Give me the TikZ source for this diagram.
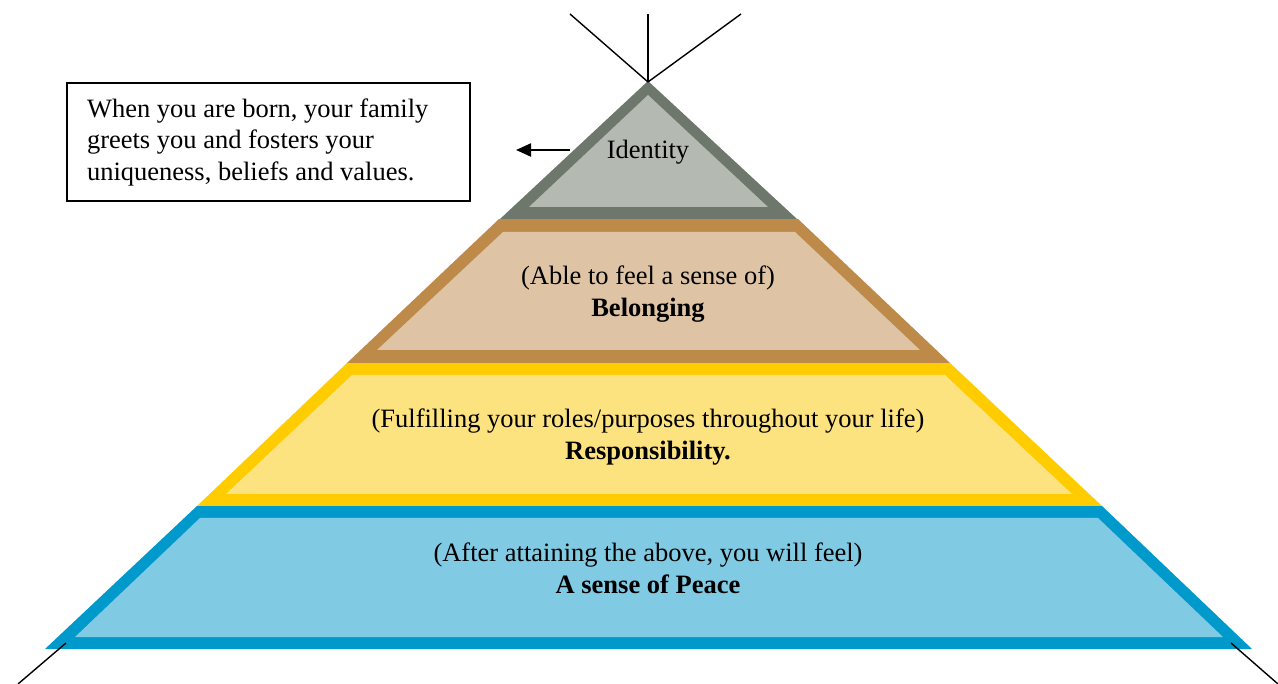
\documentclass[tikz,border=0pt]{standalone}
\usepackage{fontspec}
\setmainfont{Liberation Serif}
\usetikzlibrary{arrows.meta}

\definecolor{idBorder}{RGB}{110,119,108}
\definecolor{idFill}{RGB}{180,186,178}
\definecolor{beBorder}{RGB}{190,138,74}
\definecolor{beFill}{RGB}{222,196,165}
\definecolor{reBorder}{RGB}{255,204,0}
\definecolor{reFill}{RGB}{253,226,128}
\definecolor{peBorder}{RGB}{0,153,204}
\definecolor{peFill}{RGB}{128,203,227}

\tikzset{
  txt/.style={font=\fontsize{26.5}{32}\selectfont, align=center, inner sep=0pt},
  thinline/.style={line width=1.4pt, black},
  notebox/.style={draw, line width=1.3pt, font=\fontsize{26.5}{31.5}\selectfont,
    align=flush left, text width=363pt, inner xsep=20pt, minimum height=118pt},
}

\begin{document}
\begin{tikzpicture}[x=1pt, y=-1pt]
  \useasboundingbox (0,0) rectangle (1278,684);

  % Peace tier
  \fill[peBorder] (197,506) -- (1102,506) -- (1252,649) -- (45,649) -- cycle;
  \fill[peFill] (200,518) -- (1098,518) -- (1223,637) -- (75,637) -- cycle;
  % Responsibility tier
  \fill[reBorder] (347,363) -- (950,363) -- (1102,506) -- (197,506) -- cycle;
  \fill[reFill] (352,375) -- (945,375) -- (1072,494) -- (226,494) -- cycle;
  % Belonging tier
  \fill[beBorder] (499,219) -- (798,219) -- (950,363) -- (347,363) -- cycle;
  \fill[beFill] (503,232) -- (795,232) -- (920,350) -- (377,350) -- cycle;
  % Identity tier
  \fill[idBorder] (648,81) -- (797,219) -- (500,219) -- cycle;
  \fill[idFill] (648,95) -- (768,207) -- (529,207) -- cycle;

  % tier labels
  \node[txt] (identity) at (648,152) {Identity};
  \node[txt] (belonging) at (648,294) {(Able to feel a sense of)\\\textbf{Belonging}};
  \node[txt] (responsibility) at (648,437) {(Fulfilling your roles/purposes throughout your life)\\\textbf{Responsibility.}};
  \node[txt] (peace) at (648,568) {(After attaining the above, you will feel)\\\textbf{A sense of Peace}};

  % poles at the apex
  \coordinate (apex) at (648,82);
  \coordinate (poleL) at (570,14);
  \coordinate (poleM) at (648,14);
  \coordinate (poleR) at (741,14);
  \draw[thinline] (apex) -- (poleL);
  \draw[thinline] (apex) -- (poleM);
  \draw[thinline] (apex) -- (poleR);

  % poles at the base corners
  \coordinate (baseL) at (66,643);
  \coordinate (footL) at (18,684);
  \coordinate (baseR) at (1231,643);
  \coordinate (footR) at (1278,684);
  \draw[thinline] (baseL) -- (footL);
  \draw[thinline] (baseR) -- (footR);

  % note box and pointer
  \node[notebox] (note) at (268.5,142) {When you are born, your family\\greets you and fosters your\\uniqueness, beliefs and values.};
  \coordinate (arrowStart) at (570,150);
  \coordinate (arrowEnd) at (516,150);
  \draw[line width=2pt, -{Triangle[length=15pt,width=13pt]}] (arrowStart) -- (arrowEnd);
\end{tikzpicture}
\end{document}
